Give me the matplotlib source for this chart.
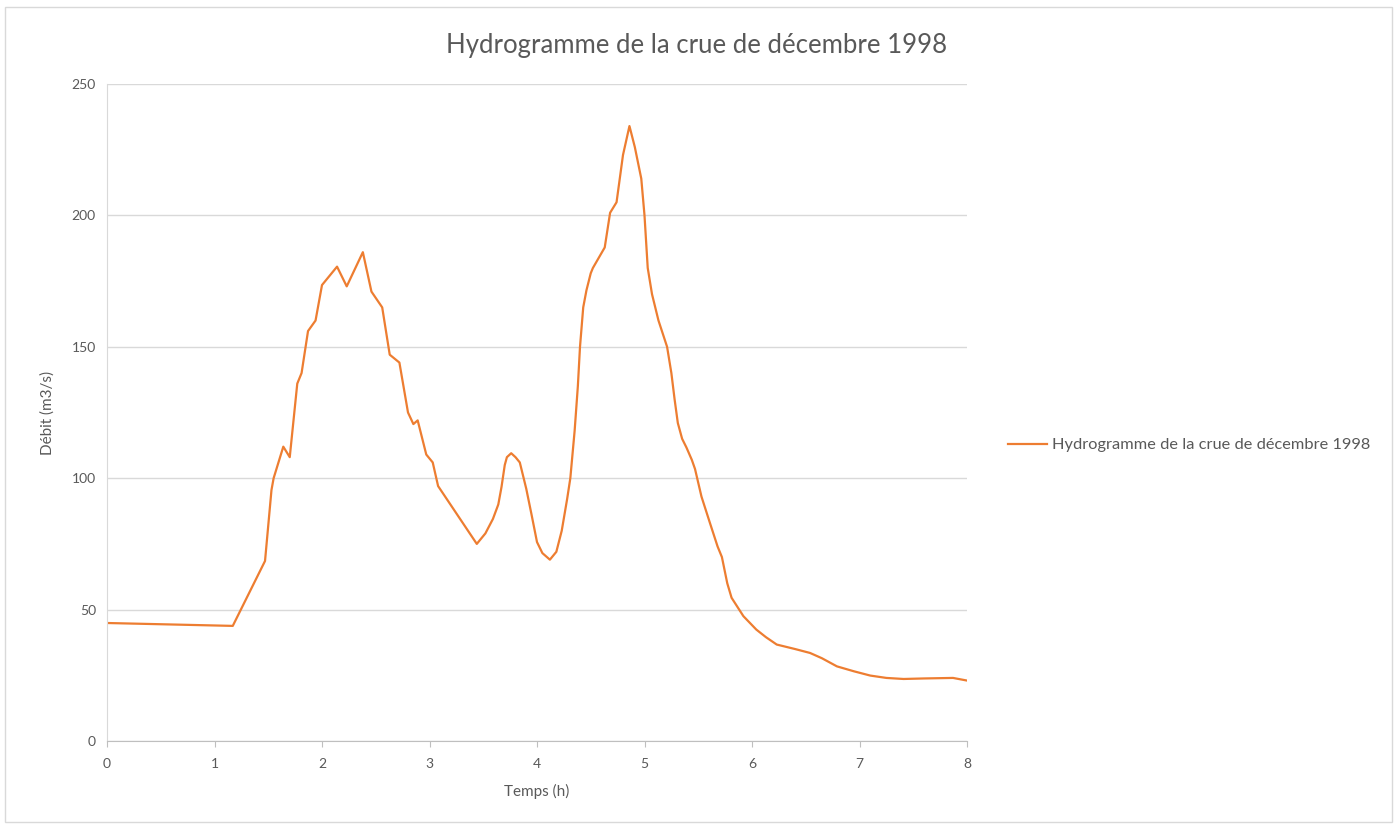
import matplotlib
matplotlib.use("Agg")
import matplotlib.pyplot as plt
from matplotlib.patches import Rectangle

# Data
temps_h = [0.00, 1.17, 1.47, 1.53, 1.55, 1.64, 1.70, 1.77, 1.81, 1.87, 1.94, 2.00,
           2.14, 2.23, 2.38, 2.46, 2.56, 2.63, 2.72, 2.80, 2.85, 2.89, 2.97, 3.03,
           3.08, 3.44, 3.52, 3.59, 3.64, 3.67, 3.70, 3.72, 3.76, 3.80, 3.84, 3.90,
           3.95, 4.00, 4.05, 4.12, 4.18, 4.23, 4.28, 4.31, 4.35, 4.38, 4.40, 4.43,
           4.46, 4.50, 4.52, 4.63, 4.68, 4.74, 4.80, 4.86, 4.91, 4.97, 5.00, 5.03,
           5.07, 5.13, 5.21, 5.25, 5.28, 5.31, 5.35, 5.39, 5.44, 5.47, 5.53, 5.61,
           5.68, 5.72, 5.77, 5.81, 5.92, 6.04, 6.13, 6.23, 6.40, 6.54, 6.65, 6.79,
           6.95, 7.10, 7.25, 7.41, 7.60, 7.87, 8.00]
debit_m3s = [44.9, 43.8, 68.5, 95.5, 100.0, 112.0, 108.0, 136.0, 140.0, 156.0, 160.0, 173.5,
             180.5, 173.0, 186.0, 171.0, 165.0, 147.0, 144.0, 125.0, 120.6, 122.0, 109.0, 106.0,
             97.0, 75.0, 79.0, 84.5, 90.0, 96.7, 105.0, 108.0, 109.5, 108.0, 106.0, 96.0,
             86.0, 75.7, 71.5, 69.0, 72.0, 80.0, 92.0, 100.0, 118.0, 135.0, 150.0, 165.0,
             171.5, 178.0, 180.0, 187.8, 201.0, 205.0, 223.0, 234.0, 226.0, 214.0, 200.0, 180.0,
             170.0, 160.0, 150.0, 140.0, 130.0, 121.0, 115.0, 111.7, 107.0, 103.5, 93.0, 82.8,
             74.0, 70.0, 60.0, 54.5, 47.5, 42.4, 39.5, 36.7, 35.0, 33.5, 31.5, 28.4,
             26.5, 24.9, 24.0, 23.6, 23.8, 24.0, 23.0]
x_ticks = [0, 1, 2, 3, 4, 5, 6, 7, 8]
y_ticks = [0, 50, 100, 150, 200, 250]
title = "Hydrogramme de la crue de décembre 1998"

plt.rcParams['font.family'] = ['Lato', 'DejaVu Sans']

W, H = 1397, 827
fig = plt.figure(figsize=(W / 100, H / 100), dpi=100)
ax = fig.add_axes([107 / W, 1 - 741 / H, (967 - 107) / W, (741 - 84) / H])

ax.plot(temps_h, debit_m3s, color='#ED7D31', linewidth=1.6, label=title)

ax.set_xlim(0, 8)
ax.set_ylim(0, 250)
ax.set_xticks(x_ticks)
ax.set_yticks(y_ticks)
ax.yaxis.grid(True, color='#d9d9d9', linewidth=1)
ax.set_axisbelow(True)
for s in ['top', 'right']:
    ax.spines[s].set_visible(False)
ax.spines['left'].set_color('#d9d9d9')
ax.spines['bottom'].set_color('#bfbfbf')
ax.tick_params(axis='both', colors='#595959', labelsize=10, length=0, pad=8)
ax.tick_params(axis='x', length=4, color='#bfbfbf', direction='out')

ax.set_xlabel("Temps (h)", fontsize=11, color='#595959', labelpad=10)
ax.set_ylabel("Débit (m3/s)", fontsize=11, color='#595959', labelpad=12)

fig.text(697 / W, 1 - 45 / H, title, fontsize=18.5, color='#595959',
         ha='center', va='center')

fig.legend(loc='center left', bbox_to_anchor=(993 / W, 1 - 445 / H), frameon=False,
           fontsize=11.8, labelcolor='#595959', handlelength=2.4, handletextpad=0.3)

fig.patches.append(Rectangle((5 / W, 5 / H), (W - 10) / W, (H - 12) / H,
                             transform=fig.transFigure, fill=False,
                             edgecolor='#d9d9d9', linewidth=1))

fig.savefig("out.png", dpi=100, facecolor='white')
